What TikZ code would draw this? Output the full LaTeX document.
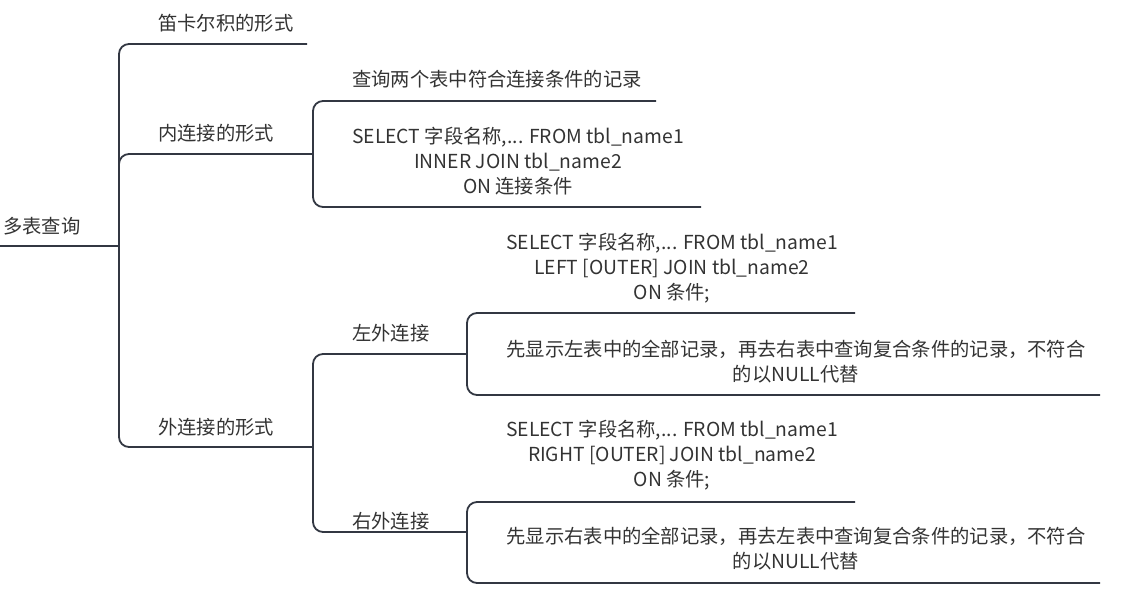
\documentclass[tikz,border=0pt]{standalone}
\usepackage{fontspec}
\setmainfont{Noto Sans CJK SC}
\newfontfamily\cjk{Noto Sans CJK SC}
\definecolor{linec}{RGB}{50,55,66}
\definecolor{textc}{RGB}{51,51,51}
\begin{document}
\begin{tikzpicture}[x=1pt,y=-1pt,
  lbl/.style={inner sep=0pt, text=textc, align=center, font=\cjk\fontsize{19.3}{25}\selectfont},
  link/.style={draw=linec, line width=1.8pt, rounded corners=10pt}]
\useasboundingbox (0,0) rectangle (1123,595);
% text nodes
\node[lbl,anchor=west] (root) at (3,226) {多表查询};
\node[lbl,anchor=west] (c1) at (158,23) {笛卡尔积的形式};
\node[lbl,anchor=west] (c2) at (158,133) {内连接的形式};
\node[lbl,anchor=west] (c3) at (158,427) {外连接的形式};
\node[lbl,anchor=west] (c2a) at (352,79) {查询两个表中符合连接条件的记录};
\node[lbl] (c2b) at (518,161) {SELECT 字段名称,... FROM tbl\_name1\\INNER JOIN tbl\_name2\\ON 连接条件};
\node[lbl,anchor=west] (c3a) at (352,333) {左外连接};
\node[lbl,anchor=west] (c3b) at (352,521) {右外连接};
\node[lbl] (c3a1) at (672,268) {SELECT 字段名称,... FROM tbl\_name1\\LEFT [OUTER] JOIN tbl\_name2\\ON 条件;};
\node[lbl] (c3a2) at (796,362) {先显示左表中的全部记录，再去右表中查询复合条件的记录，不符合\\的以NULL代替};
\node[lbl] (c3b1) at (672,455) {SELECT 字段名称,... FROM tbl\_name1\\RIGHT [OUTER] JOIN tbl\_name2\\ON 条件;};
\node[lbl] (c3b2) at (796,549) {先显示右表中的全部记录，再去左表中查询复合条件的记录，不符合\\的以NULL代替};
% underline ends and junctions
\coordinate (rootS) at (0,246);
\coordinate (j0) at (119,246);
\coordinate (c1u) at (307,44);
\coordinate (c2u) at (313,154);
\coordinate (c3u) at (313,447);
\coordinate (c2au) at (656,101);
\coordinate (c2bu) at (701,207);
\coordinate (c3au) at (467,354);
\coordinate (c3bu) at (467,532);
\coordinate (c3a1u) at (855,313);
\coordinate (c3a2u) at (1100,395);
\coordinate (c3b1u) at (855,502);
\coordinate (c3b2u) at (1100,583);
% connectors
\draw[link] (rootS) -- (j0);
\draw[link] (j0) |- (c1u);
\draw[link] (j0) |- (c2u);
\draw[link] (j0) |- (c3u);
\draw[link] (c2u) |- (c2au);
\draw[link] (c2u) |- (c2bu);
\draw[link] (c3u) |- (c3au);
\draw[link] (c3u) |- (c3bu);
\draw[link] (c3au) |- (c3a1u);
\draw[link] (c3au) |- (c3a2u);
\draw[link] (c3bu) |- (c3b1u);
\draw[link] (c3bu) |- (c3b2u);
\end{tikzpicture}
\end{document}
